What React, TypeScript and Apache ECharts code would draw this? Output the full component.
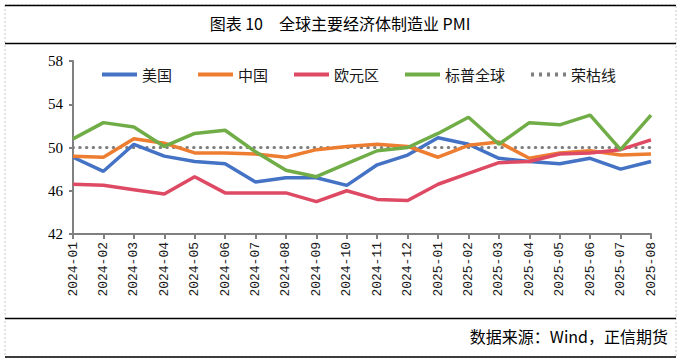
import React, { useEffect, useRef } from "react";
import * as echarts from "echarts";

const categories = [
  "2024-01", "2024-02", "2024-03", "2024-04", "2024-05", "2024-06", "2024-07",
  "2024-08", "2024-09", "2024-10", "2024-11", "2024-12", "2025-01", "2025-02",
  "2025-03", "2025-04", "2025-05", "2025-06", "2025-07", "2025-08",
];
const usValues = [49.1, 47.8, 50.3, 49.2, 48.7, 48.5, 46.8, 47.2, 47.2, 46.5, 48.4, 49.3, 50.9, 50.3, 49.0, 48.7, 48.5, 49.0, 48.0, 48.7];
const chinaValues = [49.2, 49.1, 50.8, 50.4, 49.5, 49.5, 49.4, 49.1, 49.8, 50.1, 50.3, 50.1, 49.1, 50.2, 50.5, 49.0, 49.5, 49.7, 49.3, 49.4];
const euroValues = [46.6, 46.5, 46.1, 45.7, 47.3, 45.8, 45.8, 45.8, 45.0, 46.0, 45.2, 45.1, 46.6, 47.6, 48.6, 48.7, 49.4, 49.5, 49.8, 50.7];
const spValues = [50.8, 52.3, 51.9, 50.1, 51.3, 51.6, 49.6, 47.9, 47.3, 48.5, 49.7, 50.0, 51.3, 52.8, 50.3, 52.3, 52.1, 53.0, 49.8, 53.0];
const boomBust = categories.map(() => 50);
const seriesNames = ["美国", "中国", "欧元区", "标普全球", "荣枯线"];
const yTicks = { min: 42, max: 58, interval: 4 };
const titleText = "图表 10　全球主要经济体制造业 PMI";
const sourceText = "数据来源：Wind，正信期货";

const colors = ["#4472C4", "#ED7D31", "#DE4A63", "#70AD47", "#7F7F7F"];

const solidIcon = "path://M0,0L35,0L35,4L0,4Z";
const dottedIcon =
  "path://M0,0h3v4h-3zM8,0h3v4h-3zM16,0h3v4h-3zM24,0h3v4h-3zM32,0h3v4h-3z";

export default function App() {
  const ref = useRef<HTMLDivElement>(null);
  useEffect(() => {
    if (!ref.current) return;
    const chart = echarts.init(ref.current, null, { renderer: "svg" });
    const dataSets = [usValues, chinaValues, euroValues, spValues, boomBust];
    const cjk = "'Noto Sans CJK SC', sans-serif";
    chart.setOption({
      animation: false,
      backgroundColor: "#ffffff",
      grid: { left: 73, right: 30, top: 61, bottom: 129, containLabel: false },
      legend: {
        left: 97,
        top: 62,
        itemWidth: 35,
        itemHeight: 4,
        itemGap: 26,
        textStyle: { fontSize: 15, fontFamily: cjk, color: "#1a1a1a" },
        data: seriesNames.map((name, i) => ({
          name,
          icon: i === 4 ? dottedIcon : solidIcon,
        })),
      },
      xAxis: {
        type: "category",
        data: categories,
        boundaryGap: false,
        axisLine: { lineStyle: { color: "#808080", width: 2 } },
        axisTick: { show: true, length: 5, lineStyle: { color: "#808080", width: 2 } },
        axisLabel: {
          rotate: 90,
          interval: 0,
          fontSize: 13,
          fontFamily: "'Liberation Mono', monospace",
          color: "#1a1a1a",
          margin: 8,
        },
        splitLine: { show: false },
      },
      yAxis: {
        type: "value",
        min: yTicks.min,
        max: yTicks.max,
        interval: yTicks.interval,
        axisLine: { show: true, lineStyle: { color: "#808080", width: 2 } },
        axisTick: { show: true, length: 4, lineStyle: { color: "#808080", width: 2 } },
        axisLabel: {
          fontSize: 15,
          fontFamily: "'Liberation Serif', serif",
          color: "#000",
          margin: 10,
        },
        splitLine: { show: false },
      },
      series: seriesNames.map((name, i) => ({
        name,
        type: "line",
        data: dataSets[i],
        symbol: "none",
        color: colors[i],
        itemStyle: { color: colors[i] },
        z: i === 4 ? 1 : 2 + i,
        lineStyle:
          i === 4
            ? { color: colors[i], width: 3, type: [0.5, 6.2], cap: "round" }
            : { color: colors[i], width: 3.5 },
      })),
      graphic: [
        { type: "rect", shape: { x: 5, y: 5, width: 671, height: 352 }, style: { fill: "none", stroke: "#c8c8c8", lineWidth: 1, lineDash: [2, 2] }, z: 0 },
        { type: "line", shape: { x1: 5, y1: 5.5, x2: 676, y2: 5.5 }, style: { stroke: "#000", lineWidth: 1.5 } },
        { type: "line", shape: { x1: 5, y1: 43.5, x2: 676, y2: 43.5 }, style: { stroke: "#000", lineWidth: 1.5 } },
        { type: "line", shape: { x1: 5, y1: 318.5, x2: 676, y2: 318.5 }, style: { stroke: "#000", lineWidth: 1.5 } },
        { type: "line", shape: { x1: 5, y1: 357, x2: 676, y2: 357 }, style: { stroke: "#000", lineWidth: 1.5 } },
        {
          type: "text",
          x: 340,
          y: 23,
          style: { text: titleText, fontSize: 16, fontFamily: cjk, fill: "#000", align: "center", verticalAlign: "middle" },
        },
        {
          type: "text",
          x: 668,
          y: 336,
          style: { text: sourceText, fontSize: 16, fontFamily: cjk, fill: "#000", align: "right", verticalAlign: "middle" },
        },
      ],
    });
    return () => chart.dispose();
  }, []);
  return (
    <div
      ref={ref}
      style={{ position: "fixed", left: 0, top: 0, width: 681, height: 363, background: "#fff" }}
    />
  );
}
